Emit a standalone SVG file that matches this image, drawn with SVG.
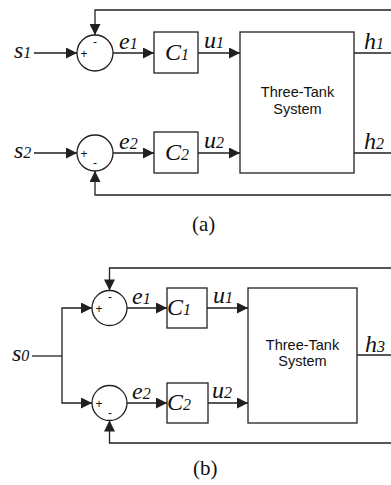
<svg xmlns="http://www.w3.org/2000/svg" width="391" height="485" viewBox="0 0 391 485">
<style>
.ln{fill:none;stroke:#231f20;stroke-width:1.3}
.bx{fill:#fff;stroke:#231f20;stroke-width:1.3}
.v{font-family:"Liberation Serif",serif;font-style:italic;font-size:24px;fill:#111}
.sub{font-size:16px}
.sys{font-family:"Liberation Sans",Arial,sans-serif;font-size:14.5px;fill:#111;text-anchor:middle}
.sg{font-family:"Liberation Sans",Arial,sans-serif;font-size:12px;fill:#111;text-anchor:middle}
.cap{font-family:"Liberation Serif",serif;font-size:21px;fill:#111}
</style>
<defs>
<marker id="ar" markerUnits="userSpaceOnUse" viewBox="0 0 12 12" refX="12" refY="6" markerWidth="12" markerHeight="11" orient="auto">
<path d="M0,0 L12,6 L0,12 z" fill="#231f20"/>
</marker>
</defs>

<g id="connectors">
<!-- (a) -->
<path class="ln" d="M34,53 H77" marker-end="url(#ar)"/>
<path class="ln" d="M113,53 H154" marker-end="url(#ar)"/>
<path class="ln" d="M198,53 H240" marker-end="url(#ar)"/>
<path class="ln" d="M354,53 H391"/>
<path class="ln" d="M391,10 H95 V35" marker-end="url(#ar)"/>
<path class="ln" d="M34,153 H77" marker-end="url(#ar)"/>
<path class="ln" d="M113,153 H154" marker-end="url(#ar)"/>
<path class="ln" d="M198,153 H240" marker-end="url(#ar)"/>
<path class="ln" d="M354,153 H391"/>
<path class="ln" d="M391,195 H95 V171" marker-end="url(#ar)"/>
<!-- (b) -->
<path class="ln" d="M32,356 H62"/>
<path class="ln" d="M62,356 V308 H92" marker-end="url(#ar)"/>
<path class="ln" d="M62,356 V403 H92" marker-end="url(#ar)"/>
<path class="ln" d="M127,308 H167" marker-end="url(#ar)"/>
<path class="ln" d="M207,308 H248" marker-end="url(#ar)"/>
<path class="ln" d="M127,403 H167" marker-end="url(#ar)"/>
<path class="ln" d="M208,403 H248" marker-end="url(#ar)"/>
<path class="ln" d="M357,355 H391"/>
<path class="ln" d="M391,268 H109.5 V290.5" marker-end="url(#ar)"/>
<path class="ln" d="M391,443 H109.5 V420.5" marker-end="url(#ar)"/>
</g>

<!-- (a) nodes -->
<g id="s1"><text class="v" x="14" y="58">s<tspan class="sub">1</tspan></text></g>
<g id="s2"><text class="v" x="14" y="158">s<tspan class="sub">2</tspan></text></g>
<g id="sum1a"><circle class="bx" cx="95" cy="53" r="18"/><text class="sg" x="84" y="57.5">+</text><text class="sg" x="95" y="46">-</text></g>
<g id="sum2a"><circle class="bx" cx="95" cy="153" r="18"/><text class="sg" x="84" y="157.5">+</text><text class="sg" x="95" y="167">-</text></g>
<g id="e1a"><text class="v" x="119" y="49">e<tspan class="sub">1</tspan></text></g>
<g id="e2a"><text class="v" x="119" y="149">e<tspan class="sub">2</tspan></text></g>
<g id="C1a"><rect class="bx" x="154" y="32" width="44" height="41"/><text class="v" x="165" y="60">C<tspan class="sub">1</tspan></text></g>
<g id="C2a"><rect class="bx" x="154" y="132" width="44" height="41"/><text class="v" x="165" y="160">C<tspan class="sub">2</tspan></text></g>
<g id="u1a"><text class="v" x="204" y="48">u<tspan class="sub">1</tspan></text></g>
<g id="u2a"><text class="v" x="204" y="148">u<tspan class="sub">2</tspan></text></g>
<g id="systemA"><rect class="bx" x="240" y="32" width="114" height="141"/><text class="sys" x="297.5" y="97">Three-Tank</text><text class="sys" x="297.5" y="113.5">System</text></g>
<g id="h1"><text class="v" x="364" y="48.5">h<tspan class="sub">1</tspan></text></g>
<g id="h2"><text class="v" x="364" y="148.5">h<tspan class="sub">2</tspan></text></g>
<g id="labelA"><text class="cap" x="192" y="231">(a)</text></g>

<!-- (b) nodes -->
<g id="s0"><text class="v" x="12" y="360.5">s<tspan class="sub">0</tspan></text></g>
<g id="sum1b"><circle class="bx" cx="109.5" cy="308" r="17.5"/><text class="sg" x="99" y="312.5">+</text><text class="sg" x="110" y="301">-</text></g>
<g id="sum2b"><circle class="bx" cx="109.5" cy="403" r="17.5"/><text class="sg" x="99" y="407.5">+</text><text class="sg" x="110" y="417">-</text></g>
<g id="e1b"><text class="v" x="132" y="304">e<tspan class="sub">1</tspan></text></g>
<g id="e2b"><text class="v" x="132" y="399">e<tspan class="sub">2</tspan></text></g>
<g id="C1b"><rect class="bx" x="167" y="288" width="40" height="40"/><text class="v" x="167" y="315">C<tspan class="sub">1</tspan></text></g>
<g id="C2b"><rect class="bx" x="167" y="383" width="41" height="40"/><text class="v" x="167" y="410">C<tspan class="sub">2</tspan></text></g>
<g id="u1b"><text class="v" x="213" y="303">u<tspan class="sub">1</tspan></text></g>
<g id="u2b"><text class="v" x="212" y="398">u<tspan class="sub">2</tspan></text></g>
<g id="systemB"><rect class="bx" x="248" y="288" width="109" height="135"/><text class="sys" x="302.5" y="350">Three-Tank</text><text class="sys" x="302.5" y="366">System</text></g>
<g id="h3"><text class="v" x="365" y="352">h<tspan class="sub">3</tspan></text></g>
<g id="labelB"><text class="cap" x="193" y="475">(b)</text></g>
</svg>
